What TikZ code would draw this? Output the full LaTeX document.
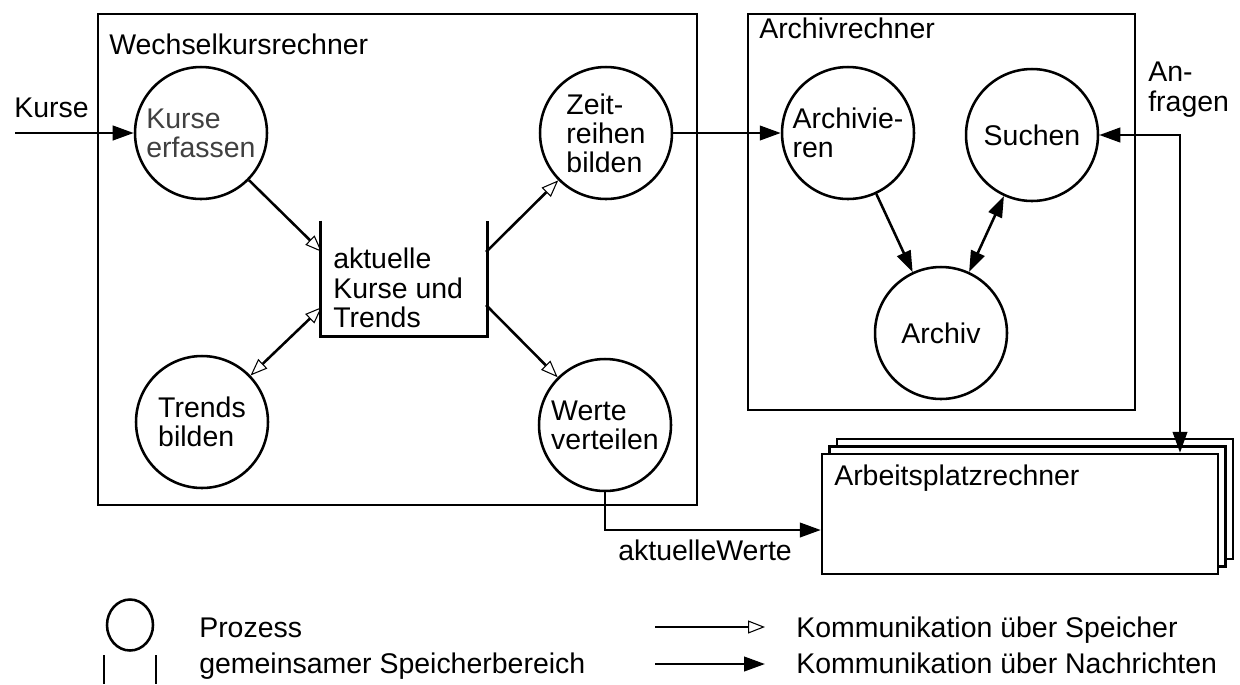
\documentclass[tikz,border=0pt]{standalone}
\usepackage{fontspec}
\setmainfont{Liberation Sans}
\usetikzlibrary{arrows.meta,shapes.geometric}
\definecolor{textgray}{RGB}{64,64,64}

\begin{document}
\begin{tikzpicture}[
                x=0.02cm, y=-0.02cm,
                font=\fontsize{16.2}{16.6}\selectfont,
                line width=1.45pt,
                procnode/.style={
                    draw, circle, minimum size=2.64cm, inner sep=0pt, align=left
                },
                groupnode/.style={
                    draw, rectangle, inner sep=0pt
                },
                labelnode/.style={
                    inner sep=0pt, anchor=base west
                },
                memarrow/.style={-{Triangle[open, length=0.34cm, width=0.26cm, line width=0.6pt]}},
                memboth/.style={{Triangle[open, length=0.34cm, width=0.26cm, line width=0.6pt]}-{Triangle[open, length=0.34cm, width=0.26cm, line width=0.6pt]}},
                msgarrow/.style={-{Triangle[length=0.42cm, width=0.29cm]}},
                msgboth/.style={{Triangle[length=0.42cm, width=0.29cm]}-{Triangle[length=0.42cm, width=0.29cm]}}
            ]
            \useasboundingbox (0,0) rectangle (1240,684);

            % rechner
            \node[groupnode, minimum width=11.98cm, minimum height=9.82cm] (wkr) at (397.5,259.5) {};
            \node[labelnode] (wkrl) at (108,54) {Wechselkursrechner};
            \node[groupnode, minimum width=7.74cm, minimum height=7.92cm] (arr) at (941.5,212) {};
            \node[labelnode] (arrl) at (758,38) {Archivrechner};
            \node[groupnode, fill=white, minimum width=7.92cm, minimum height=2.4cm] (apr3) at (1035,499) {};
            \node[groupnode, fill=white, minimum width=7.92cm, minimum height=2.4cm] (apr2) at (1027.5,506.5) {};
            \node[groupnode, fill=white, minimum width=7.92cm, minimum height=2.4cm] (apr) at (1020,514) {};
            \node[labelnode] (aprl) at (833,485) {Arbeitsplatzrechner};

            % prozesse
            \node[procnode, text=textgray] (ke) at (201,133) {Kurse\\erfassen};
            \node[procnode] (zr) at (606,133) {Zeit-\\reihen\\bilden};
            \node[procnode] (tb) at (202,422) {Trends\\bilden};
            \node[procnode] (wv) at (605,425) {Werte\\verteilen};
            \node[procnode] (av) at (848,133) {Archivie-\\ren};
            \node[procnode] (su) at (1032,135) {Suchen};
            \node[procnode] (ac) at (941,333) {Archiv};

            % speicher
            \node[minimum width=3.28cm, minimum height=2.26cm, inner sep=0pt] (store) at (404,278.5) {};
            \draw (store.north west) -- (store.south west) -- (store.south east) -- (store.north east);
            \node[inner sep=0pt, anchor=north west, align=left] (storel) at (332,247) {aktuelle\\Kurse und\\Trends};
            \coordinate (s1) at (322,252);
            \coordinate (s2) at (322,307);
            \coordinate (s3) at (486,252);
            \coordinate (s4) at (486,305);

            % kommunikation
            \draw[memarrow] (ke) -- (s1);
            \draw[memboth] (tb) -- (s2);
            \draw[memarrow] (s3) -- (zr);
            \draw[memarrow] (s4) -- (wv);

            \coordinate (kin) at (15,133);
            \draw[msgarrow] (kin) -- (ke);
            \node[labelnode] (kl) at (13,117) {Kurse};
            \draw[msgarrow] (zr) -- (av);
            \draw[msgarrow] (av) -- (ac);
            \draw[msgboth] (su) -- (ac);
            \coordinate (anf) at (1180,135);
            \draw[msgboth] (su) -- (anf) -- (anf |- apr.north);
            \node[labelnode] (anfl1) at (1147,81) {An-};
            \node[labelnode] (anfl2) at (1147,111) {fragen};
            \coordinate (wvk) at (605,530);
            \draw[msgarrow] (wv) -- (wvk) -- (wvk -| apr.west);
            \node[labelnode] (awl) at (617,560) {aktuelleWerte};

            % legende
            \node[draw, ellipse, minimum width=0.92cm, minimum height=1.02cm, inner sep=0pt] (lgproc) at (130,625) {};
            \coordinate (lgs1) at (104,655);
            \coordinate (lgs2) at (156,655);
            \draw (lgs1) -- (lgs1 |- 0,684);
            \draw (lgs2) -- (lgs2 |- 0,684);
            \node[labelnode] (lgproct) at (198,637) {Prozess};
            \node[labelnode] (lgmemt) at (198,673) {gemeinsamer Speicherbereich};
            \coordinate (lga1) at (655,627);
            \coordinate (lgb1) at (765,627);
            \coordinate (lga2) at (655,664);
            \coordinate (lgb2) at (765,664);
            \draw[memarrow] (lga1) -- (lgb1);
            \draw[msgarrow] (lga2) -- (lgb2);
            \node[labelnode] (lgmemk) at (795,637) {Kommunikation über Speicher};
            \node[labelnode] (lgmsgk) at (795,673) {Kommunikation über Nachrichten};
            \end{tikzpicture}
\end{document}
